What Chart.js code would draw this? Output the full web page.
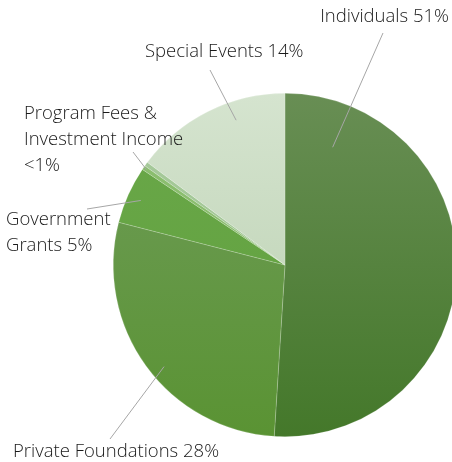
<!DOCTYPE html>
<html>
<head>
<meta charset="utf-8">
<script src="https://cdn.jsdelivr.net/npm/chart.js@4"></script>
<style>
  html, body { margin: 0; padding: 0; background: #fff; overflow: hidden; }
  #wrap { width: 452px; height: 462px; overflow: hidden; position: relative; }
  #box { width: 462px; height: 462px; position: absolute; left: 0; top: 0; }
</style>
</head>
<body>
<div id="wrap"><div id="box"><canvas id="pie" width="462" height="462"></canvas></div></div>
<script>
// Daten
var categories = ["Individuals", "Private Foundations", "Government Grants", "Program Fees", "Investment Income", "Special Events"];
var values = [51, 28, 5.4, 0.4, 0.4, 14.8];
var labelTexts = [
  ["Individuals 51%"],
  ["Private Foundations 28%"],
  ["Government", "Grants 5%"],
  ["Program Fees &", "Investment Income", "<1%"],
  [],
  ["Special Events 14%"]
];

// Farben (oben -> unten)
var colorTop = ["#688e54", "#6f9c5a", "#6aa84a", "#8cbf70", "#a6c99a", "#d5e4cf"];
var colorBottom = ["#44782a", "#5a9333", "#60a03c", "#86b968", "#9fc592", "#b8ceae"];

// Label-Positionen: Index, Anteil entlang Bogen, Radius-Anteil, Textposition
var labelLayout = [
  { i: 0, t: 0.12, r: 0.74, lx: 383, ly: 33, tx: 449, ty: 17, align: "right" },
  { i: 5, t: 0.65, r: 0.89, lx: 210, ly: 70, tx: 145, ty: 52, align: "left" },
  { i: 3, t: 0.5, r: 0.98, lx: 133, ly: 152, tx: 24, ty: 114, align: "left" },
  { i: 2, t: 0.5, r: 0.92, lx: 87, ly: 209, tx: 6, ty: 220, align: "left" },
  { i: 1, t: 0.46, r: 0.92, lx: 110, ly: 439, tx: 13, ty: 452, align: "left" }
];

function makeGradient(ctx, area, i) {
  var g = ctx.createLinearGradient(0, area.top, 0, area.bottom);
  g.addColorStop(0, colorTop[i]);
  g.addColorStop(1, colorBottom[i]);
  return g;
}

var labelPlugin = {
  id: "leaderLabels",
  afterDatasetsDraw: function (chart) {
    var ctx = chart.ctx;
    var arcs = chart.getDatasetMeta(0).data;
    ctx.save();
    labelLayout.forEach(function (l) {
      var arc = arcs[l.i];
      var a = arc.startAngle + l.t * (arc.endAngle - arc.startAngle);
      var px = arc.x + Math.cos(a) * arc.outerRadius * l.r;
      var py = arc.y + Math.sin(a) * arc.outerRadius * l.r;
      ctx.strokeStyle = "#a6a6a6";
      ctx.lineWidth = 1;
      ctx.beginPath();
      ctx.moveTo(px, py);
      ctx.lineTo(l.lx, l.ly);
      ctx.stroke();

      ctx.fillStyle = "#1a1a1a";
      ctx.font = "300 18.5px 'Open Sans'";
      ctx.textAlign = l.align;
      ctx.textBaseline = "middle";
      labelTexts[l.i].forEach(function (line, k) {
        ctx.fillText(line, l.tx, l.ty + k * 26);
      });
    });
    ctx.restore();
  }
};

new Chart(document.getElementById("pie"), {
  type: "pie",
  data: {
    labels: categories,
    datasets: [{
      data: values,
      backgroundColor: function (c) {
        var area = c.chart.chartArea;
        if (!area) return colorTop[c.dataIndex];
        return makeGradient(c.chart.ctx, area, c.dataIndex);
      },
      borderColor: "rgba(255,255,255,0.3)",
      borderWidth: 0.6
    }]
  },
  options: {
    responsive: false,
    animation: false,
    layout: { padding: { left: 113, right: 5, top: 93, bottom: 25 } },
    plugins: {
      legend: { display: false },
      tooltip: { enabled: false }
    }
  },
  plugins: [labelPlugin]
});
</script>
</body>
</html>
